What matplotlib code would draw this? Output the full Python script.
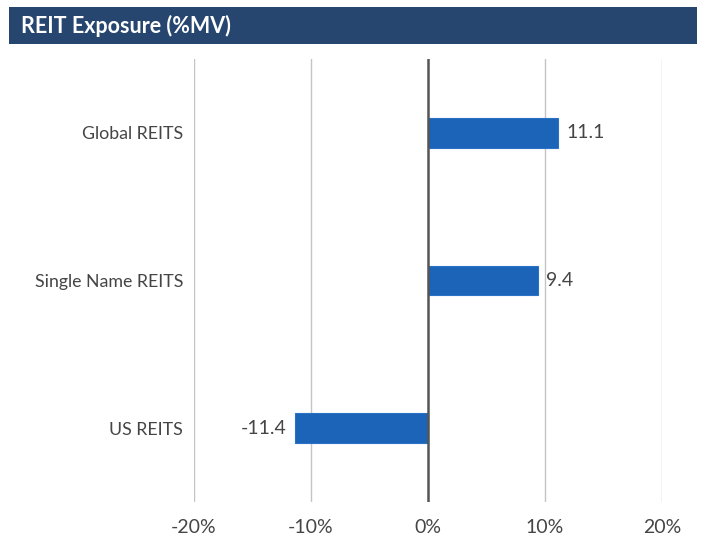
import matplotlib
matplotlib.use("Agg")
import matplotlib.pyplot as plt
from matplotlib.patches import Rectangle

categories = ["Global REITS", "Single Name REITS", "US REITS"]
values = [11.1, 9.4, -11.4]
xticks = [-20, -10, 0, 10, 20]
xtick_labels = ["-20%", "-10%", "0%", "10%", "20%"]
title = "REIT Exposure (%MV)"

plt.rcParams['font.family'] = ['Lato', 'DejaVu Sans']

W, H = 701, 539
fig = plt.figure(figsize=(W/100, H/100), dpi=100)

# Title banner
fig.patches.append(Rectangle((9/W, 1-44/H), 688/W, 37/H, transform=fig.transFigure,
                             facecolor="#26466f", edgecolor="none", zorder=0))
fig.text(21/W, 1-26/H, title, color="white", fontsize=15.5, fontweight="bold",
         va="center", ha="left")

ax = fig.add_axes([194/W, 37/H, 468/W, 443/H])
ypos = list(range(len(categories)))
ax.barh(ypos, values, height=0.2, color="#1b64b8", edgecolor="#2a72c6", linewidth=0.8, zorder=3)
ax.set_xlim(-20, 20)
ax.set_ylim(len(categories)-0.5, -0.5)
ax.set_xticks(xticks)
ax.set_xticklabels(xtick_labels)
ax.set_yticks(ypos)
ax.set_yticklabels(categories)
for s in ax.spines.values():
    s.set_visible(False)
ax.tick_params(axis="both", length=0, colors="#454545")
ax.tick_params(axis="y", pad=8, labelsize=12.8)
ax.tick_params(axis="x", pad=12, labelsize=14)
for t in xticks:
    if t == 0:
        ax.axvline(t, color="#555555", linewidth=1.8, zorder=4)
    else:
        ax.axvline(t, color="#c4c4c4", linewidth=1.0, zorder=1)

for y, v in zip(ypos, values):
    if v >= 0:
        ax.text(v + 0.7, y, f"{v:.1f}", va="center", ha="left", fontsize=14, color="#454545")
    else:
        ax.text(v - 0.7, y, f"{v:.1f}", va="center", ha="right", fontsize=14, color="#454545")

fig.savefig("out.png", dpi=100)
